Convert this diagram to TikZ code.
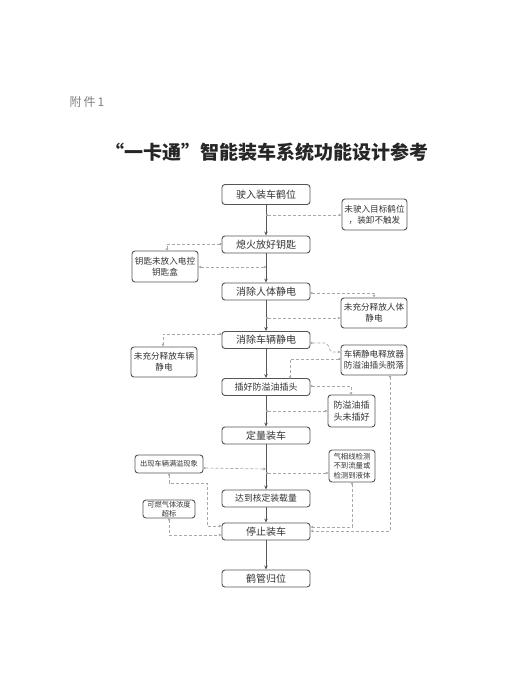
\documentclass[tikz,border=0pt]{standalone}
\usepackage{fontspec}
\setmainfont{Noto Sans CJK SC}
\newfontfamily\cjk{Noto Sans CJK SC}
\usetikzlibrary{arrows.meta,calc}
\definecolor{boxline}{HTML}{555555}
\definecolor{txt}{HTML}{333333}
\definecolor{dash}{HTML}{A8A8A8}
\tikzset{
  mainbox/.style={draw=boxline,line width=0.9pt,rounded corners=3pt,minimum width=88pt,minimum height=17pt,inner sep=0pt,font=\fontsize{10}{12}\selectfont,text=txt},
  sidebox/.style={draw=boxline,line width=0.9pt,rounded corners=3pt,inner sep=0pt,align=center,font=\fontsize{8.6}{11}\selectfont,text=txt},
  flow/.style={draw=boxline,line width=0.8pt,-{Stealth[length=4pt,width=3.5pt]}},
  fail/.style={draw=dash,line width=0.7pt,dash pattern=on 3pt off 2pt,{Circle[open,length=2.2pt]}-{Triangle[open,length=2.6pt,width=2.6pt]}},
}
\begin{document}
\begin{tikzpicture}[x=1pt,y=-1pt]
\useasboundingbox (0,0) rectangle (528,693);
\fill[white] (0,0) rectangle (528,693);
\node[anchor=west,text=gray,font=\fontsize{12}{14}\selectfont] (att) at (66,102) {附\,件\,1};
\node[font=\fontsize{19}{22}\selectfont\bfseries,text=black!85] (title) at (267,152) {“一卡通”智能装车系统功能设计参考};
% main column
\node[mainbox,minimum height=20pt] (m1) at (266,194.5) {驶入装车鹤位};
\node[mainbox] (m2) at (266,244.5) {熄火放好钥匙};
\node[mainbox] (m3) at (266,291.5) {消除人体静电};
\node[mainbox] (m4) at (266,340) {消除车辆静电};
\node[mainbox,font=\fontsize{9}{11}\selectfont] (m5) at (266,387) {插好防溢油插头};
\node[mainbox] (m6) at (266,435.5) {定量装车};
\node[mainbox,font=\fontsize{8.8}{11}\selectfont] (m7) at (266,498.5) {达到核定装载量};
\node[mainbox] (m8) at (266,531.5) {停止装车};
\node[mainbox] (m9) at (266,578.5) {鹤管归位};
% side boxes
\node[sidebox,minimum width=65pt,minimum height=31pt] (sa) at (374.5,214.5) {未驶入目标鹤位\\，装卸不触发};
\node[sidebox,minimum width=66pt,minimum height=31pt] (sb) at (165,266.5) {钥匙未放入电控\\钥匙盒};
\node[sidebox,minimum width=66pt,minimum height=30pt] (sc) at (374,313) {未充分释放人体\\静电};
\node[sidebox,minimum width=66pt,minimum height=30pt] (sd) at (164,362) {未充分释放车辆\\静电};
\node[sidebox,minimum width=66pt,minimum height=30pt] (se) at (374,360) {车辆静电释放器\\防溢油插头脱落};
\node[sidebox,minimum width=47pt,minimum height=32pt,font=\fontsize{9}{11.5}\selectfont] (sf) at (351.5,411) {防溢油插\\头未插好};
\node[sidebox,minimum width=46pt,minimum height=32pt,font=\fontsize{7.4}{9.6}\selectfont] (sg) at (352,466) {气相线检测\\不到流量或\\检测到液体};
\node[sidebox,minimum width=68pt,minimum height=18pt,font=\fontsize{7.2}{9}\selectfont] (sh) at (169,464) {出现车辆满溢现象};
\node[sidebox,minimum width=52pt,minimum height=18pt,font=\fontsize{7.2}{8.6}\selectfont] (si) at (169,509) {可燃气体浓度\\超标};
% main flow
\draw[flow] (m1) -- (m2);
\draw[flow] (m2) -- (m3);
\draw[flow] (m3) -- (m4);
\draw[flow] (m4) -- (m5);
\draw[flow] (m5) -- (m6);
\draw[flow] (m6) -- (m7);
\draw[flow] (m7) -- (m8);
\draw[flow] (m8) -- (m9);
% branch points on main line
\coordinate (p1) at (266,215);
\coordinate (p2) at (266,267);
\coordinate (p3) at (266,318);
\coordinate (p4) at (266,411);
\coordinate (p5) at (266,469);
\coordinate (p6) at (266,473);
% failure connectors
\draw[fail] (p1) -- (sa.west |- p1);
\draw[fail] (m2.west |- 0,244) -- (167,244) -- (167,251);
\draw[fail] (p2) -- (sb.east |- p2);
\draw[fail] (m3.east |- 0,293) -- (374,293) -- (sc.north);
\draw[fail] (p3) -- (sc.west |- p3);
\draw[fail] (m4.west |- 0,334) -- (163,334) -- (sd.north -| 163,0);
\draw[fail,rounded corners=2pt] (m4.east |- 0,343) -- (327,343) -- (331,352) -- (se.west |- 0,352);
\draw[fail] (se.west |- 0,359) -- (290,359) -- (290,379);
\draw[fail] (m5.east |- 0,386) -- (351,386) -- (351,395);
\draw[fail] (p4) -- (sf.west |- p4);
\draw[fail] (sh.east |- 0,468) -- (p5);
\draw[fail] (p6) -- (sg.west |- p6);
\draw[fail] (sh.south) -- (169,483) -- (207,483) -- (207,526) -- (m8.west |- 0,526);
\draw[fail] (si.south) -- (169,535) -- (m8.west |- 0,535);
\draw[fail] (sg.south) -- (352,527) -- (m8.east |- 0,527);
\draw[fail] (se.south -| 390,0) -- (390,531) -- (m8.east |- 0,531);
\end{tikzpicture}
\end{document}
